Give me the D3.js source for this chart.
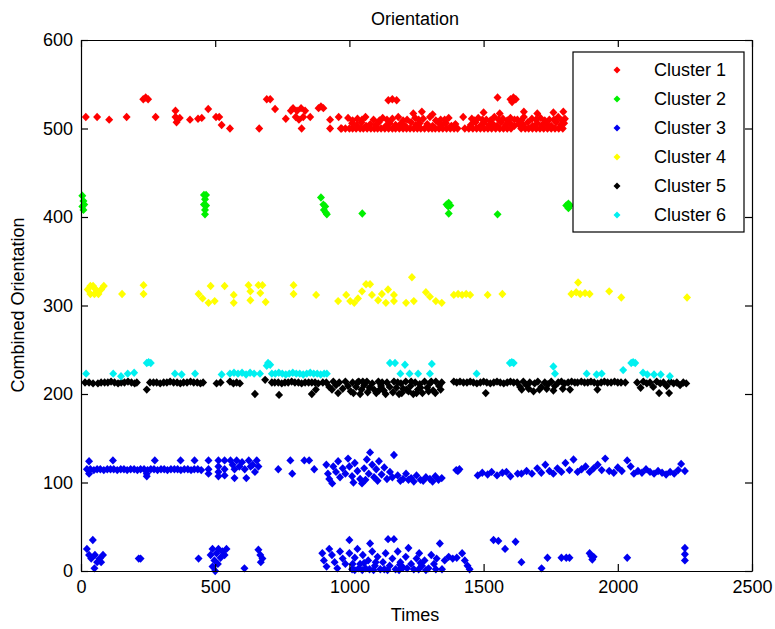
<!DOCTYPE html>
<html>
<head>
<meta charset="utf-8">
<script src="https://cdn.jsdelivr.net/npm/d3@7"></script>
<style>
  body { margin: 0; background: #fff; }
  svg { display: block; }
  text { font-family: "Liberation Sans", Arial, sans-serif; fill: #000; }
</style>
</head>
<body>
<svg width="775" height="629"></svg>
<script>
// chart data as [time, orientation]
const clusterNames = ['Cluster 1', 'Cluster 2', 'Cluster 3', 'Cluster 4', 'Cluster 5', 'Cluster 6'];
const clusterColors = ['#ff0000', '#00f000', '#0000f0', '#ffff00', '#000000', '#00f0f0'];
const xTicks = [0, 500, 1000, 1500, 2000, 2500];
const yTicks = [0, 100, 200, 300, 400, 500, 600];

const cluster1 = [
  [18,513],[60,513],[105,510],[170,513],[232,533],[241,535],[250,533],[278,513],[352,520],[352,513],
  [360,510],[368,512],[356,507],[406,510],[436,511],[450,512],[474,522],[503,513],[515,513],[524,504],
  [555,500],[664,500],[692,533],[705,533],[723,522],[763,511],[782,520],[790,523],[800,513],[805,520],
  [812,510],[820,523],[822,500],[828,513],[835,520],[854,513],[885,523],[894,525],[903,523],[928,510],
  [928,500],[960,513],[968,500],
  [971,500],[985,500],[1000,500],[1012,500],[1025,500],[1040,500],[1052,500],[1066,500],[1080,500],[1093,500],
  [1105,500],[1118,500],[1132,500],[1146,500],[1160,500],[1172,500],[1186,500],[1200,500],[1213,500],[1226,500],
  [1240,500],[1253,500],[1266,500],[1280,500],[1295,500],[1308,500],[1320,500],[1334,500],[1348,500],[1362,500],
  [1376,500],[1390,500],[1403,500],[1430,500],[1445,500],[1460,500],[1474,500],[1488,500],[1502,500],[1516,500],
  [1530,500],[1545,500],[1560,500],[1574,500],[1588,500],[1602,500],[1640,500],[1655,500],[1668,500],[1682,500],
  [1696,500],[1710,500],[1724,500],[1738,500],[1752,500],[1766,500],[1780,500],[1795,500],
  [1010,506],[1045,507],[1078,505],[1110,507],[1150,506],[1190,505],[1230,507],[1262,506],[1290,505],[1330,507],
  [1360,506],[1395,505],[1470,507],[1500,506],[1535,505],[1565,507],[1598,506],[1630,505],[1665,507],[1700,506],
  [1735,505],[1770,507],[1800,506],[1027,504],[1062,503],[1098,504],[1136,503],[1172,504],[1208,503],[1248,504],
  [1310,503],[1345,504],[1380,503],[1452,504],[1488,503],[1520,504],[1550,503],[1582,504],[1615,503],[1648,504],
  [1683,503],[1718,504],[1752,503],[1788,504],
  [995,512],[1030,511],[1060,513],[1090,510],[1124,512],[1160,511],[1182,513],[1215,510],[1245,512],[1275,511],
  [1300,513],[1340,510],[1370,512],[1424,513],[1456,511],[1480,512],[1510,510],[1540,513],[1572,511],[1600,512],
  [1626,510],[1650,513],[1680,511],[1712,512],[1745,510],[1778,513],[1803,511],
  [1012,509],[1047,510],[1112,509],[1140,510],[1200,509],[1258,510],[1322,509],[1355,510],[1465,509],[1495,510],
  [1525,509],[1556,510],[1588,509],[1615,510],[1640,509],[1695,510],[1728,509],[1762,510],[1792,509],
  [1238,517],[1270,519],[1310,516],[1500,518],[1560,517],[1650,519],[1700,517],[1760,518],[1797,519],
  [1145,532],[1160,533],[1176,532],[1552,535],[1600,533],[1611,535],[1620,533],[1606,530]
];

const cluster2 = [
  [5,424],[9,418],[5,412],[12,414],[9,408],[458,425],[466,425],[462,420],[458,414],[466,413],
  [462,408],[462,403],[894,422],[903,414],[910,412],[905,408],[912,405],[916,403],[1048,404],[1362,414],
  [1370,416],[1376,413],[1368,412],[1370,404],[1552,403],[1808,413],[1816,415],[1822,413],[1816,410]
];

const cluster3 = [
  [22,115],[35,115],[48,114],[60,115],[72,115],[85,114],[98,115],[110,115],[122,115],[135,114],
  [148,115],[160,115],[172,114],[185,115],[198,115],[210,114],[222,115],[235,115],[248,114],[260,115],
  [272,115],[285,114],[298,115],[310,115],[322,114],[335,115],[348,115],[360,115],[372,114],[385,115],
  [398,115],[410,114],[422,115],[435,115],[448,114],
  [30,124],[30,110],[119,125],[245,107],[245,110],[275,125],[371,125],[423,125],[475,125],[475,115],[475,110],
  [512,125],[512,118],[512,112],[512,107],[535,125],[535,115],[535,108],[557,125],[565,120],[572,115],
  [572,105],[580,125],[590,118],[600,123],[610,115],[616,105],[625,125],[632,118],[640,120],[648,112],
  [655,125],[661,118],[735,115],[780,125],[787,110],[832,125],[850,125],[869,115],
  [914,120],[920,110],[925,104],[936,99],[940,118],[950,112],[958,124],[965,106],[975,116],[985,110],
  [995,127],[1000,118],[1010,107],[1020,122],[1030,113],[1040,104],[1047,99],[1055,116],[1065,126],[1072,110],
  [1077,134],[1085,120],[1092,106],[1100,115],[1110,124],[1120,109],[1130,117],[1140,104],[1151,112],[1166,131],
  [1180,108],[1200,104],[1211,110],[1230,105],[1250,108],[1265,103],[1285,106],[1300,104],[1320,107],[1344,105],
  [1190,102],[1220,103],[1240,101],[1275,102],[1310,101],[1332,103],[1160,106],[1015,100],[1060,103],[1105,102],
  [1398,114],[1404,113],[1410,115],
  [1478,108],[1495,111],[1515,109],[1530,112],[1550,108],[1570,111],[1585,112],[1600,107],[1627,110],
  [1641,110],[1660,113],[1680,110],[1700,116],[1715,111],[1730,120],[1745,113],[1760,110],[1775,116],[1790,112],
  [1805,122],[1820,114],[1835,126],[1850,112],[1865,115],[1880,118],[1895,112],[1910,116],[1925,120],[1940,114],
  [1953,127],[1968,113],[1985,111],[2000,117],[2015,113],[2035,125],[2048,118],[2060,110],[2075,113],[2090,111],
  [2105,115],[2120,112],[2135,110],[2150,113],[2165,111],[2180,109],[2195,112],[2210,110],[2225,114],[2236,121],
  [2250,113],
  [44,35],[22,25],[30,18],[38,14],[52,18],[60,10],[70,14],[82,18],[75,10],[50,3],
  [215,14],[222,14],[438,14],[483,18],[490,25],[497,12],[505,20],[512,25],[520,15],[527,22],
  [535,18],[542,25],[490,5],[500,0],[510,8],[609,3],[661,24],[668,18],[676,14],[670,10],
  [899,20],[905,12],[915,5],[925,25],[935,18],[945,10],[955,3],[965,22],[975,14],[985,8],
  [1000,35],[1000,20],[1010,2],[1020,15],[1030,25],[1040,8],[1050,18],[1060,3],[1070,12],[1077,31],
  [1085,22],[1095,6],[1105,16],[1115,2],[1125,10],[1135,20],[1144,36],[1150,6],[1160,14],[1166,36],
  [1172,2],[1180,22],[1190,10],[1200,4],[1210,16],[1220,26],[1230,8],[1240,2],[1250,14],[1260,20],
  [1270,6],[1280,12],[1295,3],[1305,18],[1315,8],[1325,14],[1337,31],[1345,2],[1355,12],[1370,16],
  [1385,14],[1400,15],[1420,20],[1430,12],[1440,6],[1448,2],
  [1020,1],[1035,3],[1048,1],[1075,2],[1090,1],[1130,2],[1142,1],[1185,1],[1215,3],[1258,2],
  [1285,1],[1322,2],[1012,8],[1055,9],[1098,10],[1188,7],[1265,9],
  [1537,35],[1555,34],[1580,25],[1619,33],[1641,10],[1716,3],[1738,15],[1790,15],[1808,15],[1820,15],
  [1895,20],[1901,17],[1905,13],[1910,16],[2035,15],[2250,26],[2250,19],[2250,12]
];

const cluster4 = [
  [25,318],[35,322],[45,322],[55,318],[65,313],[35,313],[50,313],[75,318],[85,322],[153,313],
  [233,323],[233,313],[438,313],[453,308],[475,303],[498,305],[483,322],[535,322],[569,312],[569,303],
  [624,323],[631,316],[631,306],[661,323],[676,323],[668,314],[688,304],[792,323],[792,313],[876,312],
  [958,305],[988,312],[1003,305],[1018,303],[1032,308],[1062,324],[1077,324],[1047,316],[1084,312],[1107,306],
  [1121,313],[1144,318],[1166,312],[1166,305],[1136,303],[1233,332],[1211,303],[1240,305],[1285,315],[1300,310],
  [1322,305],[1344,303],[1389,312],[1405,313],[1420,312],[1435,313],[1450,312],[1515,312],[1570,313],[1827,313],
  [1845,315],[1860,313],[1878,314],[1895,313],[1852,326],[1968,316],[2013,309],[2258,309]
];

const cluster5 = [
  [15,213],[30,213],[45,212],[63,212],[75,213],[88,213],[100,213],[112,214],[125,213],[138,212],
  [150,213],[162,213],[175,214],[188,213],[200,212],[208,213],[245,205],[257,213],[270,213],[282,213],
  [295,212],[308,213],[320,213],[332,214],[345,213],[358,213],[370,212],[382,213],[395,213],[408,214],
  [420,213],[433,213],[445,212],[455,213],[505,212],[520,213],[555,214],[568,212],[580,213],[592,212],
  [648,200],[686,216],[711,213],[722,213],[735,213],[738,199],[748,212],[760,213],[772,213],[785,214],
  [797,213],[810,213],[822,212],[835,213],[848,213],[860,200],[860,213],[872,213],[875,205],[884,212],
  [901,213],
  [914,213],[925,208],[935,205],[940,214],[950,210],[958,201],[962,213],[975,206],[985,214],[995,209],
  [1005,203],[1012,213],[1025,208],[1035,214],[1045,205],[1055,210],[1065,214],[1075,207],[1085,212],[1092,205],
  [1100,201],[1108,214],[1118,209],[1128,204],[1140,213],[1150,208],[1162,202],[1166,214],[1175,207],[1185,200],
  [1192,212],[1200,206],[1210,214],[1220,203],[1228,209],[1238,200],[1245,213],[1255,205],[1262,211],[1272,201],
  [1280,214],[1290,207],[1300,212],[1312,204],[1322,214],[1334,209],[1344,213],
  [1015,201],[1040,200],[1068,202],[1110,204],[1135,200],[1195,201],[1212,205],[1250,201],[1265,207],[1295,203],
  [1320,201],[1340,205],[1030,213],[1050,214],[1122,213],[1180,213],[1230,214],[1305,214],
  [1389,214],[1400,213],[1412,214],[1425,213],[1438,213],[1450,214],[1462,213],[1475,212],[1488,213],[1500,214],
  [1508,201],[1512,213],[1525,212],[1538,213],[1550,214],[1562,213],[1575,212],[1588,213],[1600,214],[1612,213],
  [1625,213],[1636,208],[1648,214],[1660,210],[1672,213],[1686,203],[1690,212],[1702,214],[1715,208],[1728,213],
  [1740,211],[1752,214],[1765,209],[1778,213],[1790,214],[1802,212],[1815,213],[1828,214],[1840,213],[1850,213],
  [1642,205],[1668,206],[1708,205],[1735,206],[1760,204],[1795,206],[1822,205],
  [1864,214],[1876,213],[1888,213],[1900,214],[1912,213],[1924,205],[1925,212],[1938,213],[1950,214],[1962,213],
  [1975,213],[1988,214],[2000,213],[2012,213],[2028,213],
  [2072,213],[2085,207],[2095,214],[2108,212],[2120,213],[2132,208],[2145,214],[2154,201],[2158,212],[2170,213],
  [2182,209],[2191,201],[2195,214],[2208,212],[2220,213],[2232,210],[2244,213],[2255,212]
];

const cluster6 = [
  [19,223],[120,223],[149,220],[174,223],[198,224],[245,235],[252,236],[260,235],[350,223],[375,222],
  [425,223],[524,222],[555,223],[570,224],[585,223],[600,224],[615,222],[630,224],[645,223],[667,223],
  [697,235],[705,233],[692,232],
  [711,223],[724,223],[737,224],[750,223],[763,222],[776,223],[789,224],[802,223],[815,223],[828,222],
  [841,223],[854,224],[867,223],[880,223],[893,222],[906,223],[916,223],
  [1151,235],[1170,235],[1207,233],[1190,223],[1224,223],[1256,223],[1300,223],[1307,234],[1474,223],[1598,235],
  [1605,236],[1612,235],[1760,231],[1766,223],[1884,223],[1921,222],[1940,223],[2020,227],[2050,235],[2057,236],
  [2065,235],[2094,224],[2110,222],[2135,222],[2160,222],[2194,220]
];

const clusters = [cluster1, cluster2, cluster3, cluster4, cluster5, cluster6];

const svg = d3.select('svg');
svg.append('rect').attr('width', 775).attr('height', 629).attr('fill', '#fff');

const x = d3.scaleLinear().domain([0, 2500]).range([81, 752]);
const y = d3.scaleLinear().domain([0, 600]).range([571, 40]);

const diamond = 'M0,-4.2L4,0L0,4.2L-4,0Z';

// points
clusters.forEach((pts, i) => {
  svg.append('g')
    .selectAll('path')
    .data(pts)
    .enter()
    .append('path')
    .attr('d', diamond)
    .attr('transform', d => `translate(${x(d[0])},${y(d[1])})`)
    .attr('fill', clusterColors[i]);
});

// axes, ticks pointing inward on all four sides
const fontSize = 18;
const fmt = d3.format('d');
svg.append('g').attr('transform', 'translate(0,571)')
  .call(d3.axisBottom(x).tickValues(xTicks).tickFormat(fmt).tickSizeInner(-7).tickSizeOuter(0).tickPadding(9));
svg.append('g').attr('transform', 'translate(81,0)')
  .call(d3.axisLeft(y).tickValues(yTicks).tickFormat(fmt).tickSizeInner(-7).tickSizeOuter(0).tickPadding(8));
svg.append('g').attr('transform', 'translate(0,40)')
  .call(d3.axisTop(x).tickValues(xTicks).tickSizeInner(-7).tickSizeOuter(0).tickFormat(''));
svg.append('g').attr('transform', 'translate(752,0)')
  .call(d3.axisRight(y).tickValues(yTicks).tickSizeInner(-7).tickSizeOuter(0).tickFormat(''));

svg.selectAll('.domain, .tick line').attr('stroke', '#000').attr('stroke-width', 1.2);
svg.selectAll('.tick text')
  .style('font-family', '"Liberation Sans", Arial, sans-serif')
  .style('font-size', fontSize + 'px')
  .attr('fill', '#000');

// titles
svg.append('text').attr('x', 415).attr('y', 25).attr('text-anchor', 'middle')
  .style('font-size', fontSize + 'px').text('Orientation');
svg.append('text').attr('x', 415).attr('y', 621).attr('text-anchor', 'middle')
  .style('font-size', fontSize + 'px').text('Times');
svg.append('text').attr('transform', 'translate(24,305) rotate(-90)').attr('text-anchor', 'middle')
  .style('font-size', fontSize + 'px').text('Combined Orientation');

// legend
const legend = svg.append('g');
legend.append('rect').attr('x', 573).attr('y', 52).attr('width', 171).attr('height', 180)
  .attr('fill', '#fff').attr('stroke', '#000').attr('stroke-width', 1.2);
const items = legend.selectAll('g.item')
  .data(clusterNames)
  .enter()
  .append('g')
  .attr('class', 'item')
  .attr('transform', (d, i) => `translate(0,${70 + i * 29})`);
items.append('path').attr('d', 'M0,-3.5L3.5,0L0,3.5L-3.5,0Z').attr('transform', 'translate(617,0)')
  .attr('fill', (d, i) => clusterColors[i]);
items.append('text').attr('x', 654).attr('dy', '0.35em')
  .style('font-size', fontSize + 'px').text(d => d);
</script>
</body>
</html>
